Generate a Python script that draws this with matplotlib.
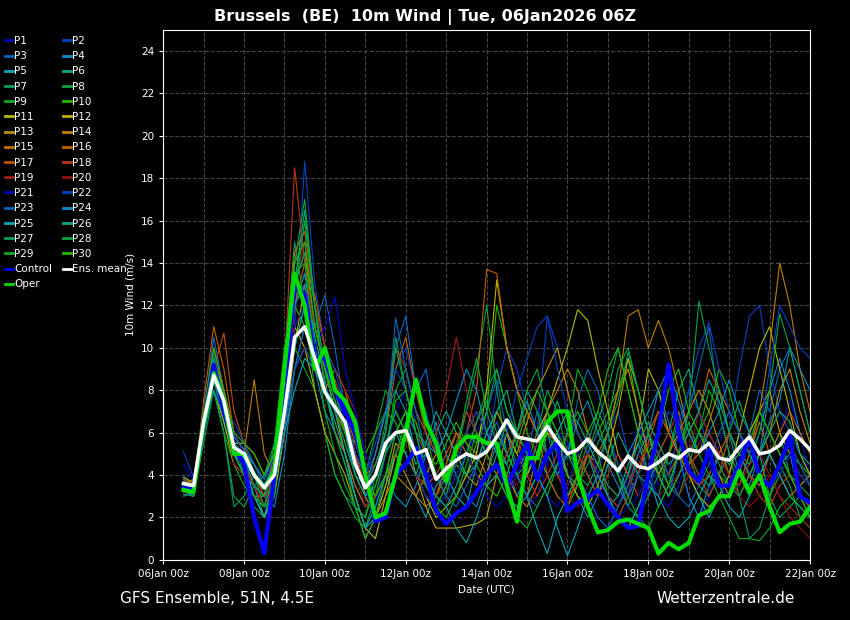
import matplotlib
matplotlib.use("Agg")
import numpy as np
import pandas as pd
import matplotlib.pyplot as plt
import matplotlib.dates as mdates

# 6-hourly steps from 06Jan2026 12z
start = pd.Timestamp("2026-01-06 12:00")

ens_mean = [3.6, 3.5, 6.5, 8.7, 7.5, 5.3, 5.0, 4.0, 3.4, 4.0,
            7.0, 10.5, 11.0, 9.5, 7.9, 7.2, 6.5, 4.5, 3.4, 4.0,
            5.5, 6.0, 6.1, 5.0, 5.2, 3.8, 4.3, 4.7, 5.0, 4.8,
            5.1, 5.8, 6.6, 5.8, 5.7, 5.6, 6.3, 5.6, 5.0, 5.2,
            5.7, 5.1, 4.7, 4.2, 4.9, 4.4, 4.3, 4.6, 5.0, 4.8,
            5.2, 5.1, 5.5, 4.8, 4.7, 5.3, 5.8, 5.0, 5.1, 5.4,
            6.1, 5.7, 5.2, 4.8]
control = [3.4, 3.3, 6.5, 9.2, 7.0, 5.3, 4.5, 2.0, 0.3, 4.0,
           8.0, 13.0, 12.5, 9.5, 9.5, 8.0, 7.0, 6.0, 4.0, 1.8,
           2.0, 4.0, 4.5, 5.3, 4.0, 2.3, 1.7, 2.2, 2.5, 3.2,
           4.0, 4.5, 3.5, 4.5, 5.5, 3.8, 5.0, 5.5, 2.3, 2.7,
           2.9, 3.3, 2.6, 2.0, 1.5, 1.6, 4.0, 6.0, 9.2, 6.0,
           4.2, 3.7, 5.2, 3.5, 3.5, 4.5, 5.8, 3.9, 3.5, 4.5,
           5.8, 3.0, 2.7]
oper = [3.3, 3.2, 6.5, 8.8, 7.5, 5.0, 5.0, 4.0, 3.4, 4.2,
        9.0, 13.5, 12.0, 9.0, 10.0, 8.0, 7.5, 6.5, 4.0, 2.0,
        2.2, 4.0, 6.0, 8.5, 6.5, 5.5, 3.7, 5.3, 5.8, 5.8,
        5.5, 5.5, 3.5, 1.8, 4.8, 4.8, 6.5, 7.0, 7.0, 4.0,
        2.5, 1.3, 1.4, 1.8, 1.9, 1.7, 1.5, 0.3, 0.8, 0.5,
        0.8, 2.1, 2.3, 3.0, 3.0, 4.2, 3.2, 4.0, 2.5, 1.3,
        1.7, 1.8, 2.5, 2.4]

members = [
    [3.5, 3.4, 7.0, 10.0, 7.5, 5.5, 5.0, 3.0, 2.0, 4.5, 9.0, 14.0, 15.0, 10.0, 9.0, 8.0, 6.0, 4.0, 3.0, 2.5, 5.0, 7.0, 8.0, 6.0, 4.5, 3.0, 2.5, 3.5, 5.0, 6.0, 7.0, 5.0, 4.0, 3.0, 2.5, 3.0, 4.5, 6.0, 5.5, 4.0, 3.0, 2.0, 1.5, 2.5, 4.0, 6.5, 5.0, 3.5, 4.0, 5.0, 3.0, 2.0, 3.0, 5.5, 7.0, 6.0, 4.0, 3.5, 5.0, 6.0, 7.5, 6.0, 4.0],
    [4.0, 3.6, 6.0, 9.0, 7.0, 5.0, 4.0, 3.0, 2.5, 5.0, 8.0, 11.0, 18.8, 13.0, 10.0, 8.0, 6.5, 5.0, 4.0, 5.0, 7.0, 9.0, 10.0, 8.0, 7.0, 5.0, 4.0, 5.5, 7.0, 6.0, 5.0, 8.0, 10.0, 9.0, 7.0, 6.0, 11.5, 10.0, 8.0, 6.0, 5.0, 4.0, 6.0, 7.0, 5.0, 4.0, 3.0, 5.0, 4.0, 6.0, 8.0, 7.0, 5.0, 4.0, 6.0, 9.0, 11.5, 12.0, 9.0, 7.0, 6.0, 5.0, 4.0],
    [3.2, 3.0, 6.8, 10.5, 8.0, 6.0, 5.0, 4.5, 3.5, 3.5, 6.0, 10.0, 12.0, 11.0, 12.5, 10.0, 7.0, 5.0, 3.0, 4.0, 6.0, 10.0, 11.5, 8.0, 9.0, 6.0, 4.0, 3.0, 4.0, 5.0, 7.0, 8.5, 6.0, 4.5, 5.0, 7.0, 6.0, 4.0, 5.0, 7.5, 9.0, 8.0, 6.0, 4.5, 3.0, 5.0, 6.0, 4.0, 3.0, 5.0, 7.0, 9.0, 11.0, 7.0, 5.0, 4.0, 6.0, 8.0, 7.0, 9.0, 10.0, 8.0, 6.0],
    [3.8, 3.5, 6.0, 8.5, 6.5, 5.0, 4.5, 4.0, 3.0, 2.5, 5.0, 9.0, 11.0, 9.0, 7.0, 6.0, 5.0, 3.5, 2.5, 3.0, 4.0, 3.0, 2.5, 3.5, 5.0, 6.5, 5.0, 4.0, 3.0, 2.5, 4.0, 5.5, 4.5, 3.0, 4.0, 5.5, 7.0, 6.0, 4.0, 3.0, 2.0, 3.0, 4.5, 3.5, 2.5, 4.0, 6.0, 8.0, 6.5, 5.0, 3.0, 2.0, 3.5, 5.0, 6.0, 4.0, 3.5, 5.0, 8.0, 9.5, 8.0, 6.0, 5.0],
    [3.4, 3.1, 6.2, 9.5, 7.8, 5.2, 4.8, 3.5, 2.0, 4.0, 7.5, 12.0, 13.5, 10.5, 8.5, 6.0, 4.5, 3.0, 1.5, 2.0, 3.5, 5.0, 4.0, 3.0, 2.0, 3.5, 4.0, 3.0, 2.5, 4.5, 6.0, 7.0, 6.0, 4.0, 3.0, 1.5, 0.3, 2.0, 3.0, 4.0, 5.0, 3.5, 2.5, 3.0, 4.5, 5.5, 4.0, 2.5, 3.5, 5.0, 4.0, 3.0, 2.0, 3.0, 4.0, 6.0, 5.0, 4.0, 3.0, 4.5, 5.0, 3.0, 2.5],
    [3.0, 3.2, 6.0, 9.0, 7.0, 5.5, 5.5, 4.5, 3.5, 4.5, 8.5, 13.0, 16.5, 12.0, 9.0, 7.0, 6.0, 4.0, 3.0, 4.0, 5.5, 7.0, 6.0, 4.5, 5.0, 6.0, 7.0, 6.0, 5.0, 4.0, 3.5, 5.0, 6.5, 5.5, 4.0, 5.0, 6.0, 7.5, 6.0, 5.0, 4.0, 3.0, 4.5, 6.0, 5.0, 4.0, 3.5, 5.0, 6.0, 8.0, 9.0, 7.0, 6.0, 5.0, 4.5, 5.0, 6.0, 7.0, 6.0, 5.0, 4.0, 3.5, 4.0],
    [3.3, 3.0, 5.5, 8.0, 6.0, 2.5, 3.0, 4.0, 3.5, 5.0, 9.5, 15.0, 12.0, 8.0, 6.0, 4.0, 3.0, 2.5, 2.0, 4.0, 6.5, 10.5, 8.0, 6.0, 5.0, 4.0, 3.0, 5.0, 6.0, 5.5, 7.0, 9.0, 7.0, 6.0, 8.0, 7.0, 5.0, 4.0, 3.0, 4.0, 5.5, 7.0, 6.0, 4.0, 2.5, 2.0, 3.0, 4.0, 5.0, 6.5, 5.0, 4.0, 3.5, 4.0, 5.0, 3.0, 1.0, 1.5, 3.0, 4.5, 3.5, 2.0, 1.5],
    [3.6, 3.3, 7.0, 9.5, 7.5, 5.5, 4.0, 2.5, 2.0, 4.0, 8.0, 14.0, 17.0, 12.0, 10.0, 8.0, 6.0, 5.0, 4.0, 6.0, 8.0, 7.0, 6.0, 5.0, 3.5, 2.5, 3.0, 5.0, 7.0, 9.0, 12.0, 8.0, 5.0, 4.0, 3.0, 4.0, 6.0, 5.0, 4.0, 3.5, 5.0, 6.5, 8.0, 10.0, 8.0, 6.0, 4.0, 3.0, 5.0, 7.0, 5.0, 3.5, 3.0, 4.0, 6.0, 7.5, 6.0, 5.0, 3.0, 2.0, 2.5, 3.0, 2.5],
    [3.2, 3.4, 6.5, 8.0, 6.0, 4.5, 3.5, 3.0, 2.5, 4.0, 7.0, 10.0, 9.0, 8.0, 6.0, 4.0, 3.0, 2.0, 1.5, 3.0, 5.0, 8.0, 9.0, 7.0, 6.0, 4.0, 3.0, 4.0, 5.0, 6.5, 8.0, 9.0, 7.0, 6.0, 5.0, 4.0, 3.0, 4.5, 6.0, 7.0, 6.0, 5.0, 3.0, 2.0, 1.5, 2.5, 4.0, 5.0, 3.5, 3.0, 4.5, 6.0, 8.0, 7.0, 5.0, 4.0, 3.0, 4.0, 5.0, 6.0, 4.0, 3.0, 2.0],
    [3.5, 3.5, 6.0, 8.5, 7.0, 5.0, 4.5, 3.5, 3.0, 5.5, 10.0, 12.0, 11.0, 9.0, 8.0, 7.0, 6.0, 5.5, 5.0, 6.0, 7.0, 6.5, 5.0, 4.0, 3.0, 2.5, 3.5, 4.5, 4.0, 5.5, 7.0, 12.0, 10.0, 8.0, 6.0, 5.0, 4.0, 3.0, 2.5, 3.5, 5.0, 6.0, 7.0, 8.0, 9.5, 7.0, 5.0, 4.0, 3.0, 4.0, 5.0, 6.0, 7.0, 9.0, 8.0, 6.0, 5.0, 4.0, 3.0, 4.0, 5.0, 4.5, 4.0],
    [3.9, 3.6, 6.2, 8.0, 6.5, 4.5, 4.0, 3.0, 2.0, 3.0, 6.0, 10.0, 13.0, 11.0, 9.0, 7.0, 5.0, 3.0, 1.5, 1.0, 3.0, 5.0, 6.0, 4.0, 3.0, 2.0, 2.5, 3.0, 4.0, 5.0, 8.0, 13.2, 10.0, 8.0, 7.0, 6.0, 7.0, 8.5, 10.0, 11.8, 11.3, 9.0, 7.0, 5.0, 4.0, 6.0, 9.0, 8.0, 6.0, 5.0, 4.0, 3.0, 2.5, 3.0, 4.0, 6.0, 8.0, 10.0, 11.0, 9.0, 7.0, 5.0, 4.0],
    [3.4, 3.2, 6.8, 9.0, 7.0, 5.0, 4.5, 3.5, 2.5, 4.0, 7.0, 11.0, 10.0, 8.0, 6.0, 5.0, 4.0, 2.5, 1.0, 2.0, 3.5, 5.5, 5.0, 4.0, 2.5, 1.5, 1.5, 1.5, 1.6, 1.7, 2.0, 4.0, 6.0, 5.0, 4.0, 5.0, 6.0, 5.5, 4.0, 3.0, 2.5, 3.5, 5.0, 7.0, 9.5, 8.0, 6.0, 4.0, 3.0, 4.0, 5.0, 6.0, 5.0, 4.0, 3.0, 4.0, 6.0, 7.0, 8.0, 6.0, 5.0, 4.0, 3.5],
    [3.7, 3.4, 6.0, 9.5, 8.0, 5.5, 5.5, 5.0, 4.0, 5.0, 8.0, 13.0, 14.5, 11.0, 9.0, 8.0, 7.0, 5.0, 3.0, 2.0, 3.0, 4.0, 3.5, 3.0, 4.0, 5.0, 6.0, 5.0, 4.0, 3.5, 5.0, 7.0, 6.0, 5.0, 6.5, 8.0, 9.0, 10.0, 8.0, 6.0, 5.0, 4.5, 6.0, 8.0, 9.0, 7.0, 5.0, 4.0, 5.0, 6.0, 7.0, 8.0, 7.0, 5.5, 4.0, 3.0, 4.0, 5.0, 6.0, 8.0, 9.0, 7.0, 5.5],
    [3.6, 3.8, 7.0, 10.0, 8.0, 6.0, 5.0, 8.5, 5.0, 4.0, 6.0, 9.0, 10.0, 9.0, 8.0, 9.0, 8.0, 6.0, 4.0, 3.0, 4.0, 5.0, 6.0, 5.0, 4.0, 3.0, 4.5, 6.0, 5.5, 5.0, 4.0, 6.0, 5.0, 4.0, 3.0, 5.0, 7.0, 8.0, 9.0, 8.0, 6.0, 5.0, 6.0, 8.0, 11.5, 11.8, 10.0, 11.3, 10.0, 8.0, 6.0, 5.0, 6.5, 8.0, 7.0, 6.0, 5.0, 7.0, 10.0, 14.0, 12.0, 9.0, 7.0],
    [3.3, 3.1, 6.5, 9.0, 7.0, 5.0, 4.0, 3.0, 3.0, 5.0, 9.0, 14.5, 15.5, 12.0, 8.0, 6.0, 5.0, 3.5, 2.5, 3.0, 4.0, 5.0, 4.0, 3.0, 2.5, 3.0, 4.0, 5.0, 6.0, 7.0, 6.0, 5.0, 4.0, 3.0, 2.5, 3.5, 5.0, 6.0, 7.0, 6.0, 5.0, 4.0, 3.0, 2.5, 3.5, 5.0, 6.0, 7.0, 6.0, 5.0, 4.5, 5.0, 6.0, 5.0, 4.0, 3.5, 5.0, 6.5, 5.0, 4.0, 3.0, 3.5, 4.0],
    [3.5, 3.3, 7.5, 11.0, 9.0, 6.0, 5.0, 4.0, 3.5, 4.5, 8.0, 12.0, 14.0, 12.5, 10.0, 8.0, 7.0, 5.5, 4.0, 4.5, 6.0, 9.0, 10.5, 8.0, 6.0, 5.0, 4.0, 4.5, 6.0, 8.0, 13.7, 13.5, 10.0, 8.0, 7.0, 6.0, 5.0, 4.0, 3.0, 3.5, 5.0, 6.0, 5.0, 4.0, 3.0, 4.0, 6.0, 5.0, 4.0, 5.0, 6.0, 7.0, 9.0, 8.0, 6.0, 5.0, 4.0, 3.5, 5.0, 6.0, 7.0, 6.0, 5.0],
    [3.8, 3.5, 6.0, 9.0, 10.7, 7.0, 5.5, 4.0, 3.0, 3.5, 7.0, 11.0, 12.0, 10.0, 8.0, 7.0, 6.0, 5.0, 3.5, 4.0, 5.0, 6.0, 5.0, 4.0, 3.5, 4.0, 5.0, 6.0, 5.0, 4.0, 3.5, 4.0, 5.0, 6.0, 7.0, 6.0, 4.0, 3.0, 2.5, 4.0, 5.0, 4.0, 3.0, 2.0, 3.0, 4.0, 5.5, 7.0, 6.0, 5.0, 4.0, 3.5, 4.0, 5.0, 6.0, 5.0, 4.0, 5.0, 6.0, 5.0, 4.0, 3.0, 2.5],
    [3.4, 3.2, 6.5, 10.0, 8.0, 6.0, 5.0, 4.0, 3.0, 4.0, 9.0, 18.5, 14.0, 11.0, 9.0, 8.5, 7.0, 5.0, 3.5, 5.0, 7.0, 10.0, 9.0, 7.0, 6.0, 5.0, 4.0, 5.5, 7.0, 6.0, 5.0, 4.0, 5.0, 6.0, 4.0, 3.0, 4.0, 5.0, 6.0, 5.0, 4.0, 3.0, 4.0, 5.0, 4.0, 3.0, 4.0, 5.0, 6.0, 7.0, 5.0, 4.0, 3.0, 4.0, 6.0, 5.0, 4.0, 3.0, 2.5, 3.5, 4.0, 3.0, 2.5],
    [3.6, 3.4, 7.0, 10.0, 8.0, 5.5, 4.5, 3.5, 2.5, 4.0, 8.0, 13.0, 15.0, 12.0, 10.0, 9.0, 8.0, 7.0, 5.0, 4.0, 5.0, 6.0, 7.0, 6.0, 5.0, 6.0, 8.0, 10.5, 8.0, 6.0, 5.0, 4.0, 3.0, 4.0, 5.0, 6.0, 5.0, 4.0, 3.5, 4.5, 5.0, 4.0, 3.0, 2.5, 3.5, 4.5, 5.5, 5.0, 4.0, 3.0, 4.0, 5.5, 6.0, 5.0, 4.0, 3.5, 4.5, 5.0, 4.0, 3.0, 2.5, 2.0, 1.5],
    [3.2, 3.0, 6.0, 9.0, 7.0, 4.5, 4.0, 3.5, 2.5, 3.5, 7.0, 12.0, 13.0, 11.0, 9.5, 8.0, 6.0, 4.0, 2.5, 3.0, 4.0, 5.0, 6.0, 5.0, 4.0, 3.0, 3.5, 5.0, 6.0, 7.0, 6.0, 5.0, 4.0, 3.5, 4.5, 5.5, 5.0, 4.0, 3.0, 2.5, 3.5, 4.5, 3.5, 3.0, 4.0, 5.0, 4.0, 3.0, 3.5, 4.0, 5.0, 7.0, 6.0, 5.0, 4.0, 3.0, 2.5, 3.0, 4.0, 3.0, 2.0, 1.5, 1.0],
    [4.5, 3.8, 6.5, 9.0, 7.0, 6.0, 5.0, 4.0, 3.5, 5.0, 8.0, 11.0, 12.0, 10.0, 11.0, 12.4, 9.0, 7.0, 5.0, 4.0, 5.0, 6.0, 5.0, 4.0, 3.0, 2.5, 3.0, 4.0, 5.0, 4.0, 3.0, 2.5, 3.0, 4.0, 5.0, 4.0, 3.0, 2.5, 3.5, 5.0, 6.0, 4.0, 3.0, 2.0, 2.5, 3.0, 4.0, 3.0, 2.5, 3.5, 5.0, 6.0, 4.5, 3.5, 3.0, 4.0, 5.5, 4.0, 3.5, 4.0, 5.0, 4.0, 3.5],
    [5.1, 3.9, 6.0, 8.0, 7.0, 6.5, 5.5, 4.5, 3.5, 4.0, 6.0, 9.0, 10.0, 9.0, 10.0, 9.0, 7.0, 5.0, 4.0, 5.5, 7.0, 9.0, 8.0, 6.5, 5.0, 4.0, 3.5, 4.5, 6.0, 7.0, 6.0, 5.0, 6.0, 8.0, 9.5, 11.0, 11.5, 9.0, 7.0, 6.0, 5.0, 6.0, 5.0, 4.0, 3.0, 4.0, 5.0, 6.0, 7.0, 6.5, 8.0, 10.0, 11.2, 9.0, 7.0, 6.0, 5.0, 6.0, 9.0, 12.0, 11.0, 10.0, 9.5],
    [3.0, 3.2, 6.2, 9.8, 7.2, 5.0, 4.5, 4.0, 3.5, 4.5, 6.5, 9.0, 11.0, 10.0, 8.0, 7.0, 5.5, 4.0, 3.0, 4.0, 6.0, 11.4, 9.0, 7.0, 5.0, 4.0, 3.0, 2.5, 3.5, 4.5, 5.5, 6.5, 5.0, 4.0, 3.0, 2.5, 3.5, 4.5, 5.0, 4.0, 3.0, 2.0, 1.5, 2.5, 3.5, 5.0, 6.0, 5.0, 4.0, 3.0, 2.5, 3.5, 4.5, 6.0, 7.0, 6.0, 5.0, 4.0, 3.5, 4.5, 5.5, 4.5, 3.5],
    [3.7, 3.5, 6.8, 9.2, 7.5, 5.8, 5.2, 4.5, 3.8, 5.0, 9.0, 12.0, 13.0, 10.0, 8.0, 7.5, 6.0, 4.5, 3.5, 5.0, 7.0, 8.0, 7.0, 6.0, 5.5, 5.0, 6.0, 7.5, 9.0, 8.0, 6.0, 5.0, 4.5, 6.0, 7.5, 6.0, 5.0, 4.0, 5.0, 6.5, 7.5, 6.0, 5.0, 4.0, 5.0, 6.0, 7.0, 8.0, 9.0, 7.5, 6.0, 5.0, 6.0, 7.0, 8.5, 7.0, 6.0, 5.0, 6.5, 7.5, 10.0, 9.0, 8.0],
    [3.3, 3.0, 6.0, 8.5, 7.0, 5.0, 4.5, 3.0, 2.0, 3.5, 6.0, 8.0, 9.5, 9.0, 8.0, 6.5, 5.0, 3.0, 1.5, 2.5, 4.0, 6.0, 7.0, 5.0, 3.5, 3.0, 2.5, 1.5, 0.8, 2.0, 3.5, 4.0, 3.0, 2.5, 3.0, 4.0, 3.0, 1.5, 0.2, 1.5, 3.0, 4.0, 3.0, 2.0, 1.5, 2.5, 3.5, 3.0, 2.0, 1.5, 2.0, 3.0, 4.0, 3.5, 2.5, 2.0, 3.0, 4.0, 5.0, 4.0, 3.0, 2.5, 2.0],
    [3.5, 3.3, 6.5, 9.0, 7.5, 5.0, 4.0, 3.5, 3.0, 4.5, 7.0, 10.0, 12.0, 11.0, 9.0, 8.0, 6.0, 4.0, 3.0, 3.5, 5.0, 6.0, 5.0, 4.0, 5.5, 7.0, 6.0, 5.0, 4.0, 4.5, 6.0, 7.0, 8.0, 6.0, 5.0, 4.0, 5.0, 6.0, 7.0, 6.5, 5.5, 4.5, 3.5, 3.0, 4.0, 5.5, 6.5, 5.5, 4.5, 5.0, 6.0, 7.0, 8.5, 7.5, 6.0, 5.0, 4.0, 5.0, 6.0, 7.0, 6.5, 5.0, 4.5],
    [3.1, 3.0, 6.0, 8.0, 6.0, 3.0, 2.5, 3.5, 4.0, 5.5, 9.0, 13.0, 14.5, 12.0, 9.0, 7.0, 5.5, 4.0, 3.5, 4.5, 6.0, 10.0, 8.0, 6.0, 4.0, 3.0, 2.5, 3.5, 5.0, 6.5, 7.5, 6.0, 5.0, 4.0, 4.5, 6.0, 8.0, 7.0, 5.0, 4.0, 3.5, 4.5, 6.0, 7.5, 9.8, 8.0, 6.0, 4.0, 3.0, 4.0, 5.0, 6.0, 5.5, 4.5, 3.5, 3.0, 4.0, 5.0, 6.0, 5.0, 4.0, 3.5, 3.0],
    [3.6, 3.4, 6.8, 9.5, 7.5, 5.5, 5.0, 4.0, 2.5, 3.0, 7.5, 12.5, 16.0, 12.0, 8.0, 6.0, 4.5, 2.5, 1.0, 2.0, 4.0, 5.0, 6.5, 5.0, 3.5, 2.5, 3.5, 5.0, 7.5, 9.5, 7.0, 5.5, 4.5, 6.0, 8.0, 9.0, 7.0, 5.0, 4.0, 3.5, 4.5, 5.5, 6.5, 9.0, 10.0, 8.0, 6.0, 4.5, 3.5, 5.0, 7.0, 12.2, 10.0, 8.0, 6.0, 5.0, 4.5, 6.0, 8.0, 11.6, 10.0, 8.0, 6.0],
    [3.4, 3.2, 6.5, 9.0, 7.0, 5.0, 4.0, 3.0, 2.5, 4.0, 8.0, 13.5, 14.0, 10.0, 7.0, 5.0, 3.5, 2.5, 2.0, 3.5, 5.0, 7.5, 8.0, 6.0, 4.0, 2.5, 2.0, 3.0, 4.5, 6.0, 5.0, 4.0, 3.0, 2.0, 1.5, 2.5, 3.5, 4.5, 6.0, 9.0, 8.0, 6.5, 5.0, 4.0, 3.0, 2.0, 1.5, 2.5, 3.5, 5.0, 6.5, 5.0, 4.0, 3.0, 2.0, 1.0, 1.0, 0.9, 1.5, 2.5, 3.0, 2.5, 2.0],
    [3.5, 3.6, 7.0, 10.0, 8.0, 6.0, 5.5, 5.0, 4.0, 5.0, 9.0, 14.0, 15.0, 11.0, 9.0, 7.5, 6.0, 4.5, 3.5, 3.0, 4.0, 6.0, 7.0, 6.5, 5.0, 4.5, 5.5, 6.5, 5.5, 4.5, 3.5, 3.0, 4.0, 5.5, 7.0, 8.0, 7.0, 6.0, 5.0, 4.5, 6.0, 7.0, 9.0, 10.0, 8.0, 6.0, 5.0, 6.0, 8.0, 9.0, 7.0, 6.0, 5.0, 4.0, 3.5, 4.5, 5.5, 7.0, 6.0, 5.0, 4.0, 3.0, 2.0],
]

member_colors = ["#0000c8", "#0040c8", "#0068c0", "#0090c0", "#00a8b8",
                 "#00a888", "#00a058", "#00a840", "#00b020", "#20b800",
                 "#b8b800", "#c0a800", "#c09000", "#c08000", "#c07000",
                 "#c06000", "#c05000", "#b83818", "#a02020", "#901010"]
member_colors = member_colors + member_colors[:10]


def times(n):
    return pd.date_range(start, periods=n, freq="6h")


fig = plt.figure(figsize=(8.5, 6.2), dpi=100, facecolor="black")
ax = fig.add_axes([0.192, 0.097, 0.761, 0.855], facecolor="black")

handles = []
for i, vals in enumerate(members):
    h, = ax.plot(times(len(vals)), vals, color=member_colors[i], lw=0.8, label=f"P{i + 1}")
    handles.append(h)
hc, = ax.plot(times(len(control)), control, color="#0000ff", lw=3, label="Control")
ho, = ax.plot(times(len(oper)), oper, color="#00dd00", lw=3, label="Oper")
hm, = ax.plot(times(len(ens_mean)), ens_mean, color="white", lw=2.5, label="Ens. mean")

ax.set_xlim(pd.Timestamp("2026-01-06"), pd.Timestamp("2026-01-22"))
ax.set_ylim(0, 25)
ax.set_yticks(range(0, 25, 2))
xt = pd.date_range("2026-01-06", "2026-01-22", freq="2D")
ax.set_xticks(xt)
ax.set_xticklabels([t.strftime("%d%b") + " 00z" for t in xt])
ax.xaxis.set_minor_locator(mdates.DayLocator())
ax.tick_params(colors="white", labelsize=7.5, length=3)
ax.tick_params(which="minor", length=0)
for s in ax.spines.values():
    s.set_color("white")
ax.grid(True, which="both", color="#444444", ls="--", lw=0.8)
ax.set_xlabel("Date (UTC)", color="white", fontsize=7.5)
ax.set_ylabel("10m Wind (m/s)", color="white", fontsize=7.5)

# legend: rows P1/P2, P3/P4 ... Control/Ens. mean, Oper
order = handles + [hc, hm, ho]
col1 = order[0::2]
col2 = order[1::2]
leg = fig.legend(handles=col1 + col2, loc="upper left", bbox_to_anchor=(-0.005, 0.957), ncol=2,
                 frameon=False, fontsize=7.5, handlelength=0.8, handletextpad=0.1,
                 columnspacing=1.0, labelspacing=0.5, labelcolor="white")
for ln in leg.get_lines():
    ln.set_linewidth(2)

fig.text(0.5, 0.985, "Brussels  (BE)  10m Wind | Tue, 06Jan2026 06Z", color="white",
         fontsize=11.5, fontweight="bold", ha="center", va="top")
fig.text(0.141, 0.035, "GFS Ensemble, 51N, 4.5E", color="white", fontsize=11, va="center")
fig.text(0.935, 0.035, "Wetterzentrale.de", color="white", fontsize=11, va="center", ha="right")

fig.savefig("out.png", dpi=100, facecolor="black")
